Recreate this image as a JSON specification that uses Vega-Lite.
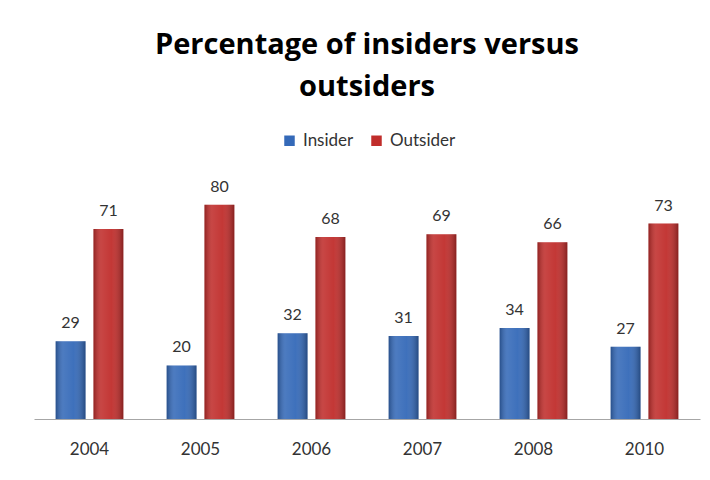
{
  "$schema": "https://vega.github.io/schema/vega-lite/v6.json",
  "width": 666,
  "height": 241,
  "padding": {"left": 34, "top": 31, "right": 10, "bottom": 10},
  "background": "white",
  "title": {
    "text": ["Percentage of insiders versus", "outsiders"],
    "font": "Open Sans",
    "fontSize": 29,
    "fontWeight": "bold",
    "color": "#000000",
    "lineHeight": 42,
    "anchor": "middle",
    "offset": 30
  },
  "data": {
    "values": [
      {"year": "2004", "series": "Insider", "value": 29},
      {"year": "2004", "series": "Outsider", "value": 71},
      {"year": "2005", "series": "Insider", "value": 20},
      {"year": "2005", "series": "Outsider", "value": 80},
      {"year": "2006", "series": "Insider", "value": 32},
      {"year": "2006", "series": "Outsider", "value": 68},
      {"year": "2007", "series": "Insider", "value": 31},
      {"year": "2007", "series": "Outsider", "value": 69},
      {"year": "2008", "series": "Insider", "value": 34},
      {"year": "2008", "series": "Outsider", "value": 66},
      {"year": "2010", "series": "Insider", "value": 27},
      {"year": "2010", "series": "Outsider", "value": 73}
    ]
  },
  "encoding": {
    "x": {
      "field": "year",
      "type": "nominal",
      "scale": {"paddingInner": 0.39, "paddingOuter": 0.195},
      "axis": {
        "title": null,
        "labelAngle": 0,
        "ticks": false,
        "domainColor": "#a6a6a6",
        "domainWidth": 1,
        "labelPadding": 22,
        "labelFont": "Lato",
        "labelFontSize": 17,
        "labelColor": "#333333"
      }
    },
    "xOffset": {
      "field": "series",
      "type": "nominal",
      "sort": ["Insider", "Outsider"],
      "scale": {"paddingInner": 0.21}
    },
    "y": {
      "field": "value",
      "type": "quantitative",
      "scale": {"domain": [0, 90], "nice": false},
      "axis": null
    }
  },
  "layer": [
    {
      "mark": {"type": "bar"},
      "encoding": {
        "color": {
          "field": "series",
          "type": "nominal",
          "sort": ["Insider", "Outsider"],
          "scale": {"domain": ["Insider", "Outsider"], "range": ["#3469b8", "#c02d2b"]},
          "legend": {
            "orient": "none",
            "legendX": 247,
            "legendY": -46,
            "direction": "horizontal",
            "title": null,
            "symbolType": "square",
            "symbolSize": 110,
            "symbolStrokeWidth": 0,
            "labelFont": "Lato",
            "labelFontSize": 17,
            "labelColor": "#333333",
            "labelOffset": 5,
            "columnPadding": 14
          }
        }
      }
    },
    {
      "mark": {
        "type": "bar",
        "fill": {
          "gradient": "linear",
          "x1": 0, "x2": 1, "y1": 0, "y2": 0,
          "stops": [
            {"offset": 0, "color": "rgba(0,0,0,0.25)"},
            {"offset": 0.25, "color": "rgba(255,255,255,0.12)"},
            {"offset": 0.6, "color": "rgba(255,255,255,0.05)"},
            {"offset": 1, "color": "rgba(0,0,0,0.3)"}
          ]
        }
      }
    },
    {
      "mark": {
        "type": "text",
        "baseline": "alphabetic",
        "dy": -13,
        "font": "Lato",
        "fontSize": 16,
        "color": "#333333"
      },
      "encoding": {"text": {"field": "value", "type": "quantitative"}}
    }
  ],
  "config": {"view": {"stroke": null}}
}
